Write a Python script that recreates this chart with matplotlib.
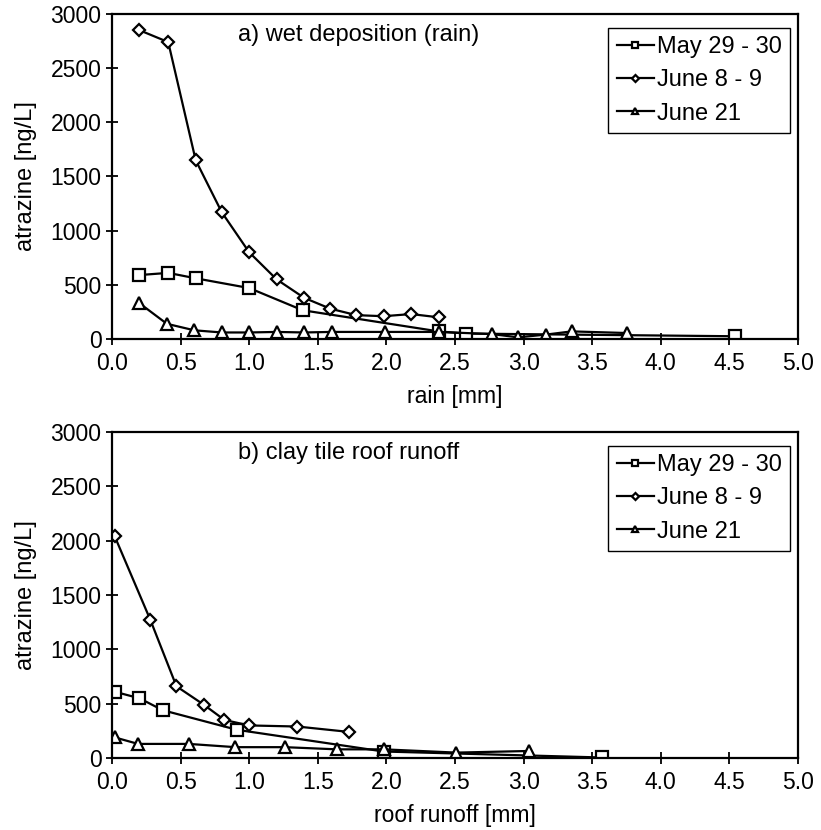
import matplotlib.pyplot as plt

plt.rcParams['font.family'] = ['Liberation Sans', 'DejaVu Sans']

series_labels = ["May 29 - 30", "June 8 - 9", "June 21"]

# a) wet deposition (rain)
rain_may_x = [0.2, 0.41, 0.61, 1.0, 1.39, 2.38, 2.58, 4.54]
rain_may_y = [590, 610, 560, 470, 265, 70, 50, 25]
rain_june8_x = [0.2, 0.41, 0.61, 0.8, 1.0, 1.2, 1.4, 1.59, 1.78, 1.98, 2.18, 2.38]
rain_june8_y = [2850, 2740, 1650, 1170, 800, 550, 380, 280, 220, 210, 230, 200]
rain_june21_x = [0.2, 0.4, 0.6, 0.8, 1.0, 1.2, 1.4, 1.6, 1.99, 2.38, 2.77, 2.96, 3.16, 3.35, 3.75]
rain_june21_y = [330, 140, 80, 60, 60, 65, 60, 65, 65, 65, 45, 15, 40, 70, 55]

# b) clay tile roof runoff
roof_may_x = [0.02, 0.2, 0.37, 0.91, 1.98, 3.57]
roof_may_y = [610, 550, 440, 260, 60, 5]
roof_june8_x = [0.02, 0.28, 0.47, 0.67, 0.82, 1.0, 1.35, 1.73]
roof_june8_y = [2040, 1270, 660, 490, 350, 300, 290, 240]
roof_june21_x = [0.02, 0.19, 0.56, 0.9, 1.26, 1.64, 1.98, 2.51, 3.04]
roof_june21_y = [190, 130, 130, 100, 100, 80, 80, 50, 65]

panels = [
    ("a) wet deposition (rain)", "rain [mm]",
     [(rain_may_x, rain_may_y), (rain_june8_x, rain_june8_y), (rain_june21_x, rain_june21_y)]),
    ("b) clay tile roof runoff", "roof runoff [mm]",
     [(roof_may_x, roof_may_y), (roof_june8_x, roof_june8_y), (roof_june21_x, roof_june21_y)]),
]
markers = ["s", "D", "^"]
marker_sizes = [8, 6.5, 9]

fig = plt.figure(figsize=(8.21, 8.30), dpi=100)
axes_boxes = [[0.1364, 0.5916, 0.8356, 0.3916], [0.1364, 0.0867, 0.8356, 0.3928]]

for box, (title, xlabel, data) in zip(axes_boxes, panels):
    ax = fig.add_axes(box)
    for (xs, ys), mk, ms, label in zip(data, markers, marker_sizes, series_labels):
        ax.plot(xs, ys, color="black", linewidth=1.6, marker=mk, markersize=ms,
                markerfacecolor="white", markeredgecolor="black", markeredgewidth=1.6, label=label)
    ax.set_xlim(0, 5)
    ax.set_ylim(0, 3000)
    ax.set_xticks([0.0, 0.5, 1.0, 1.5, 2.0, 2.5, 3.0, 3.5, 4.0, 4.5, 5.0])
    ax.set_xticklabels([f"{v:.1f}" for v in ax.get_xticks()])
    ax.set_yticks(range(0, 3001, 500))
    ax.tick_params(direction="inout", length=9, width=1.3, labelsize=16.5)
    ax.tick_params(axis="x", pad=5)
    ax.tick_params(axis="y", pad=3)
    for spine in ax.spines.values():
        spine.set_linewidth(1.6)
    ax.set_xlabel(xlabel, fontsize=16.5, labelpad=7)
    ax.set_ylabel("atrazine [ng/L]", fontsize=17, labelpad=10)
    ax.text(0.183, 0.935, title, transform=ax.transAxes, fontsize=17, va="center", ha="left")
    leg = ax.legend(loc="upper right", bbox_to_anchor=(0.988, 0.958), borderaxespad=0,
                    fontsize=17, handlelength=1.6, handletextpad=0.1, labelspacing=0.48,
                    markerscale=0.55, fancybox=False, framealpha=1, borderpad=0.35)
    leg.get_frame().set_edgecolor("black")
    leg.get_frame().set_linewidth(1.0)

fig.savefig("out.png", dpi=100)
